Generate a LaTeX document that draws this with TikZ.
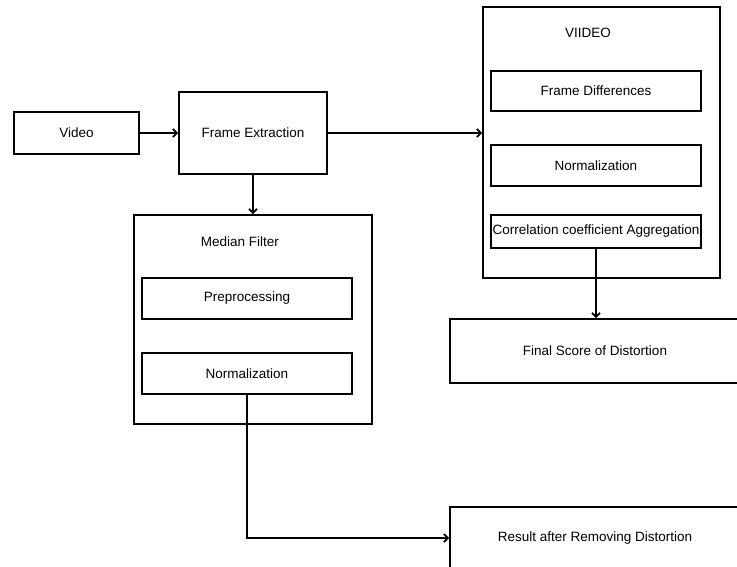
\documentclass[tikz,border=0pt]{standalone}
\usepackage{fontspec}
\setmainfont{Liberation Sans}
\usetikzlibrary{arrows.meta}
\begin{document}
\begin{tikzpicture}[x=1pt,y=-1pt,
  every node/.style={font=\fontsize{13.5}{15}\selectfont},
  box/.style={draw, line width=1.7pt, rectangle, inner sep=0pt, align=center},
  groupframe/.style={draw, line width=1.7pt, rectangle, inner sep=0pt},
  grouptitle/.style={inner sep=0pt},
  conn/.style={-{Straight Barb[length=4pt,width=8pt]}}]
\useasboundingbox (0,0) rectangle (737,567);

% input and frame extraction
\node[box, minimum width=125pt, minimum height=42pt] (video) at (76.5,133) {Video};
\node[box, minimum width=148pt, minimum height=82pt] (fe) at (253,133) {Frame Extraction};

% right branch: frame analysis group
\node[groupframe, minimum width=237pt, minimum height=271pt] (vgroup) at (601.5,142.5) {};
\node[grouptitle] (vtitle) at (588,33) {VIIDEO};
\node[box, minimum width=210pt, minimum height=40pt] (fdiff) at (596,91) {Frame Differences};
\node[box, minimum width=210pt, minimum height=41pt] (normr) at (596,165.5) {Normalization};
\node[box, minimum width=210pt, minimum height=33pt] (corr) at (596,231.5) {Correlation coefficient Aggregation};
\node[box, minimum width=290pt, minimum height=64pt] (final) at (595,351) {Final Score of Distortion};

% left branch: median filter group
\node[groupframe, minimum width=238pt, minimum height=209pt] (mgroup) at (253,319.5) {};
\node[grouptitle] (mtitle) at (240,242) {Median Filter};
\node[box, minimum width=210pt, minimum height=41pt] (prep) at (247,298.5) {Preprocessing};
\node[box, minimum width=210pt, minimum height=41pt] (norml) at (247,373.5) {Normalization};
\node[box, minimum width=290pt, minimum height=62pt] (result) at (595,538) {Result after Removing Distortion};

% connectors
\begin{scope}[line width=1.8pt]
\draw[conn] (video.east) -- (fe.west |- video.east);
\draw[conn] (fe.east) -- (fe.east -| vgroup.west);
\draw[conn] (fe.south) -- (mgroup.north);
\draw[conn] (corr.south) -- (final.north -| corr.south);
\draw[conn] (norml.south) |- (result.west);
\end{scope}
\end{tikzpicture}
\end{document}
